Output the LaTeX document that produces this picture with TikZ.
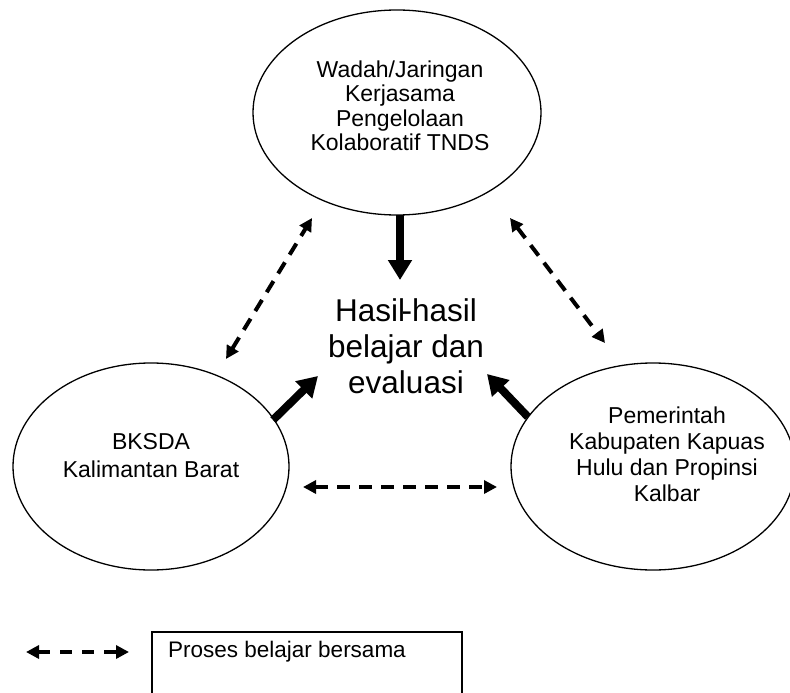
\documentclass[tikz,border=0pt]{standalone}
\usepackage{fontspec}
\setmainfont{Liberation Sans}
\usetikzlibrary{shapes.geometric,arrows.meta}
\begin{document}
\begin{tikzpicture}[x=1pt,y=-1pt,
  ell/.style={draw,ellipse,line width=1.3pt,inner sep=0pt},
  etext/.style={align=center,font=\fontsize{23}{26}\selectfont},
  thick arrow/.style={line width=8pt,-{Triangle[length=20pt,width=23pt]}},
  learn/.style={line width=4pt,dash pattern=on 13pt off 9pt,{Triangle[length=13pt,width=13pt]}-{Triangle[length=13pt,width=13pt]}}]
\useasboundingbox (0,0) rectangle (790,693);
% ellipses
\node[ell,minimum width=288pt,minimum height=205pt] (top) at (397,112.5) {};
\node[ell,minimum width=276pt,minimum height=207pt] (left) at (151,466.5) {};
\node[ell,minimum width=284pt,minimum height=207pt] (right) at (653,466.5) {};
% texts
\node[etext,font=\fontsize{23}{24.5}\selectfont] (toptxt) at (400,106) {Wadah/Jaringan\\Kerjasama\\Pengelolaan\\Kolaboratif TNDS};
\node[etext,font=\fontsize{23}{28}\selectfont] (lefttxt) at (151,456) {BKSDA\\Kalimantan Barat};
\node[etext] (righttxt) at (667,454) {Pemerintah\\Kabupaten Kapuas\\Hulu dan Propinsi\\Kalbar};
\node[align=center,font=\fontsize{31.5}{36}\selectfont] (center) at (406,346) {Hasil\kern-3.5pt-hasil\\belajar dan\\evaluasi};
% thick arrows
\coordinate (a1s) at (400,215); \coordinate (a1e) at (400,280);
\coordinate (a2s) at (273,420); \coordinate (a2e) at (318,376);
\coordinate (a3s) at (528,417); \coordinate (a3e) at (487,374);
\draw[thick arrow] (a1s) -- (a1e);
\draw[thick arrow] (a2s) -- (a2e);
\draw[thick arrow] (a3s) -- (a3e);
% dashed double arrows
\coordinate (d1a) at (226,359); \coordinate (d1b) at (312,218);
\coordinate (d2a) at (510,218); \coordinate (d2b) at (605,343);
\coordinate (d3a) at (303,487); \coordinate (d3b) at (497,487);
\draw[learn] (d1a) -- (d1b);
\draw[learn] (d2a) -- (d2b);
\draw[learn] (d3a) -- (d3b);
% legend
\coordinate (la) at (26,652); \coordinate (lb) at (129,652);
\draw[learn,dash pattern=on 12pt off 10pt] (la) -- (lb);
\draw[line width=1.5pt] (152,700) -- (152,632) -- (462,632) -- (462,700);
\node[anchor=west,font=\fontsize{22.5}{26}\selectfont,inner sep=0pt] (legtxt) at (168,652) {Proses belajar bersama};
\end{tikzpicture}
\end{document}
